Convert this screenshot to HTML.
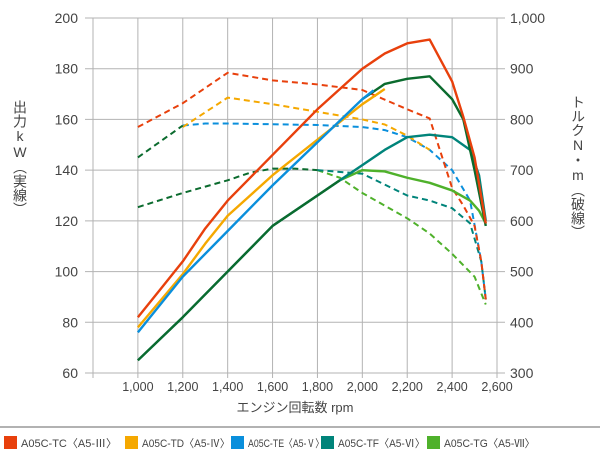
<!DOCTYPE html>
<html><head><meta charset="utf-8">
<style>
body{margin:0;background:#fff;font-family:"Liberation Sans","Noto Sans CJK JP",sans-serif;}
svg text{font-family:"Liberation Sans","Noto Sans CJK JP",sans-serif;fill:#444;}
.vt{writing-mode:vertical-rl;text-orientation:upright;}
</style></head>
<body>
<svg id="c" width="600" height="460" viewBox="0 0 600 460">
<g id="grid"></g>
<g id="series"></g>
<g id="axes"></g>
<text x="20" y="100" font-size="14" class="vt">出力kW（実線）</text>
<text x="578" y="95" font-size="14" class="vt">トルクN・m（破線）</text>
<text x="295" y="412" font-size="13" text-anchor="middle">エンジン回転数 rpm</text>
<line x1="0" y1="427" x2="600" y2="427" stroke="#999" stroke-width="1.5"/>
<g id="legend"></g>
</svg>
<script>
const xTicks=[1000,1200,1400,1600,1800,2000,2200,2400,2600];
const yLeftTicks=[60,80,100,120,140,160,180,200];
const yRightTicks=["300","400","500","600","700","800","900","1,000"];
// power kW (solid)
const tcRpm=[1000,1100,1200,1300,1400,1600,1800,2000,2100,2200,2300,2400,2450,2500,2550];
const tcPow=[82,93,104,117,128,146,164,180,186,190,191.5,175,161,145,119];
const tdRpm=[1000,1200,1300,1400,1600,1800,2000,2100];
const tdPow=[78,99,111,122,138,152,166,172];
const teRpm=[1000,1200,1400,1600,1800,2000,2050];
const tePow=[76,98,116,134,151,168,171.5];
const dgRpm=[2000,2100,2200,2300,2400,2450,2500,2550];
const dgPow=[168,174,176,177,168,160,140,118];
const tfRpm=[1000,1200,1400,1600,1800,1900,2000,2100,2200,2300,2400,2480,2520,2550];
const tfPow=[65,82,100,118,130,136,142,148,153,154,153,148,138,120];
const tgRpm=[1900,2000,2100,2200,2300,2400,2480,2520,2550];
const tgPow=[136,140,139.5,137,135,132,128,124,119];
// torque Nm (dashed)
const tcTqRpm=[1000,1200,1400,1600,1800,2000,2200,2300,2400,2450,2500,2530,2550];
const tcTq=[785,832,892,877,869,858,820,802,665,630,590,520,445];
const teTqRpm=[1200,1300,1400,1800,2000,2100,2200,2300,2400,2480,2530,2550];
const teTq=[788,792,792,789,785,779,765,740,700,640,520,445];
const tdTqRpm=[1200,1400,1600,1800,2000,2100,2200,2300];
const tdTq=[785,843,830,815,800,790,768,740];
const dgTqRpm=[1000,1200];
const dgTq=[725,788];
const tfTqRpm=[1800,2000,2200,2300,2400,2480,2530,2550];
const tfTq=[700,693,650,640,625,595,520,445];
const lgTqRpm=[1000,1200,1400,1500,1600,1700,1800];
const lgTq=[627,655,680,695,703,703,700];
const tgTqRpm=[1800,1900,2000,2100,2200,2300,2400,2500,2550];
const tgTq=[700,685,655,630,605,575,535,490,435];

const X0=93,X1=497,Y0=373,Y1=18;
const sx=v=>X0+(v-800)/1800*(X1-X0);
const syL=v=>Y0-(v-60)/140*(Y0-Y1);
const syR=v=>Y0-(v-300)/700*(Y0-Y1);
const NS="http://www.w3.org/2000/svg";
function mk(t,a,p){const e=document.createElementNS(NS,t);for(const k in a)e.setAttribute(k,a[k]);p.appendChild(e);return e;}
const grid=document.getElementById('grid'),axes=document.getElementById('axes'),ser=document.getElementById('series');
for(let r=800;r<=2600;r+=200){const l=mk('line',{x1:sx(r),x2:sx(r),y1:Y1,y2:Y0+5,stroke:'#b3b3b3','stroke-width':1},grid);

}
yLeftTicks.forEach((v,i)=>{const y=syL(v);const l=mk('line',{x1:85,x2:505,y1:y,y2:y,stroke:'#b3b3b3','stroke-width':1},grid);


const t=mk('text',{x:78,y:y+5,'font-size':14,'text-anchor':'end'},axes);t.textContent=v;


const t2=mk('text',{x:510,y:y+5,'font-size':14,'text-anchor':'start'},axes);t2.textContent=yRightTicks[i];

});
xTicks.forEach(v=>{const t=mk('text',{x:sx(v),y:391,'font-size':12.5,'text-anchor':'middle'},axes);t.textContent=v.toLocaleString('en-US');

});
function line(xs,ys,f,color,dash,name,w){const pts=xs.map((x,i)=>sx(x)+','+f(ys[i])).join(' ');
const p=mk('polyline',{points:pts,fill:'none',stroke:color,'stroke-width':w||2.4,'stroke-linejoin':'round','stroke-dasharray':dash?'6,4':'none'},ser);

}
const C={tc:'#e8400c',td:'#f5a800',te:'#0a8fdc',tf:'#00847a',tg:'#4fb12b',dg:'#0b6b2e'};
line(tgTqRpm,tgTq,syR,C.tg,1,'tg-torque-line',2);
line(tfTqRpm,tfTq,syR,C.tf,1,'tf-torque-line',2);
line(lgTqRpm,lgTq,syR,C.dg,1,'low-torque-line',2);
line(teTqRpm,teTq,syR,C.te,1,'te-torque-line',2);
line(tdTqRpm,tdTq,syR,C.td,1,'td-torque-line',2);
line(dgTqRpm,dgTq,syR,C.dg,1,'tf-torque-start-line',2);
line(tcTqRpm,tcTq,syR,C.tc,1,'tc-torque-line',2);
line(tgRpm,tgPow,syL,C.tg,0,'tg-power-line');
line(tfRpm,tfPow,syL,C.tf,0,'tf-power-line');
line(tfRpm.slice(0,6),tfPow.slice(0,6),syL,C.dg,0,'low-power-line');
line(dgRpm,dgPow,syL,C.dg,0,'upper-power-line');
line(tdRpm,tdPow,syL,C.td,0,'td-power-line');
line(teRpm,tePow,syL,C.te,0,'te-power-line');
line(tcRpm,tcPow,syL,C.tc,0,'tc-power-line');
const leg=[['A05C-TC〈A5-Ⅲ〉',C.tc,4,96],['A05C-TD〈A5-Ⅳ〉',C.td,125,88],['A05C-TE〈A5-Ⅴ〉',C.te,231,76],['A05C-TF〈A5-Ⅵ〉',C.tf,321,87],['A05C-TG〈A5-Ⅶ〉',C.tg,427,91]];
const lg=document.getElementById('legend');
leg.forEach(([n,c,x,w])=>{const r=mk('rect',{x:x,y:436,width:13,height:13,fill:c},lg);


const t=mk('text',{x:x+17,y:447,'font-size':11,textLength:w,lengthAdjust:'spacingAndGlyphs'},lg);t.textContent=n;

});
</script>
</body></html>
